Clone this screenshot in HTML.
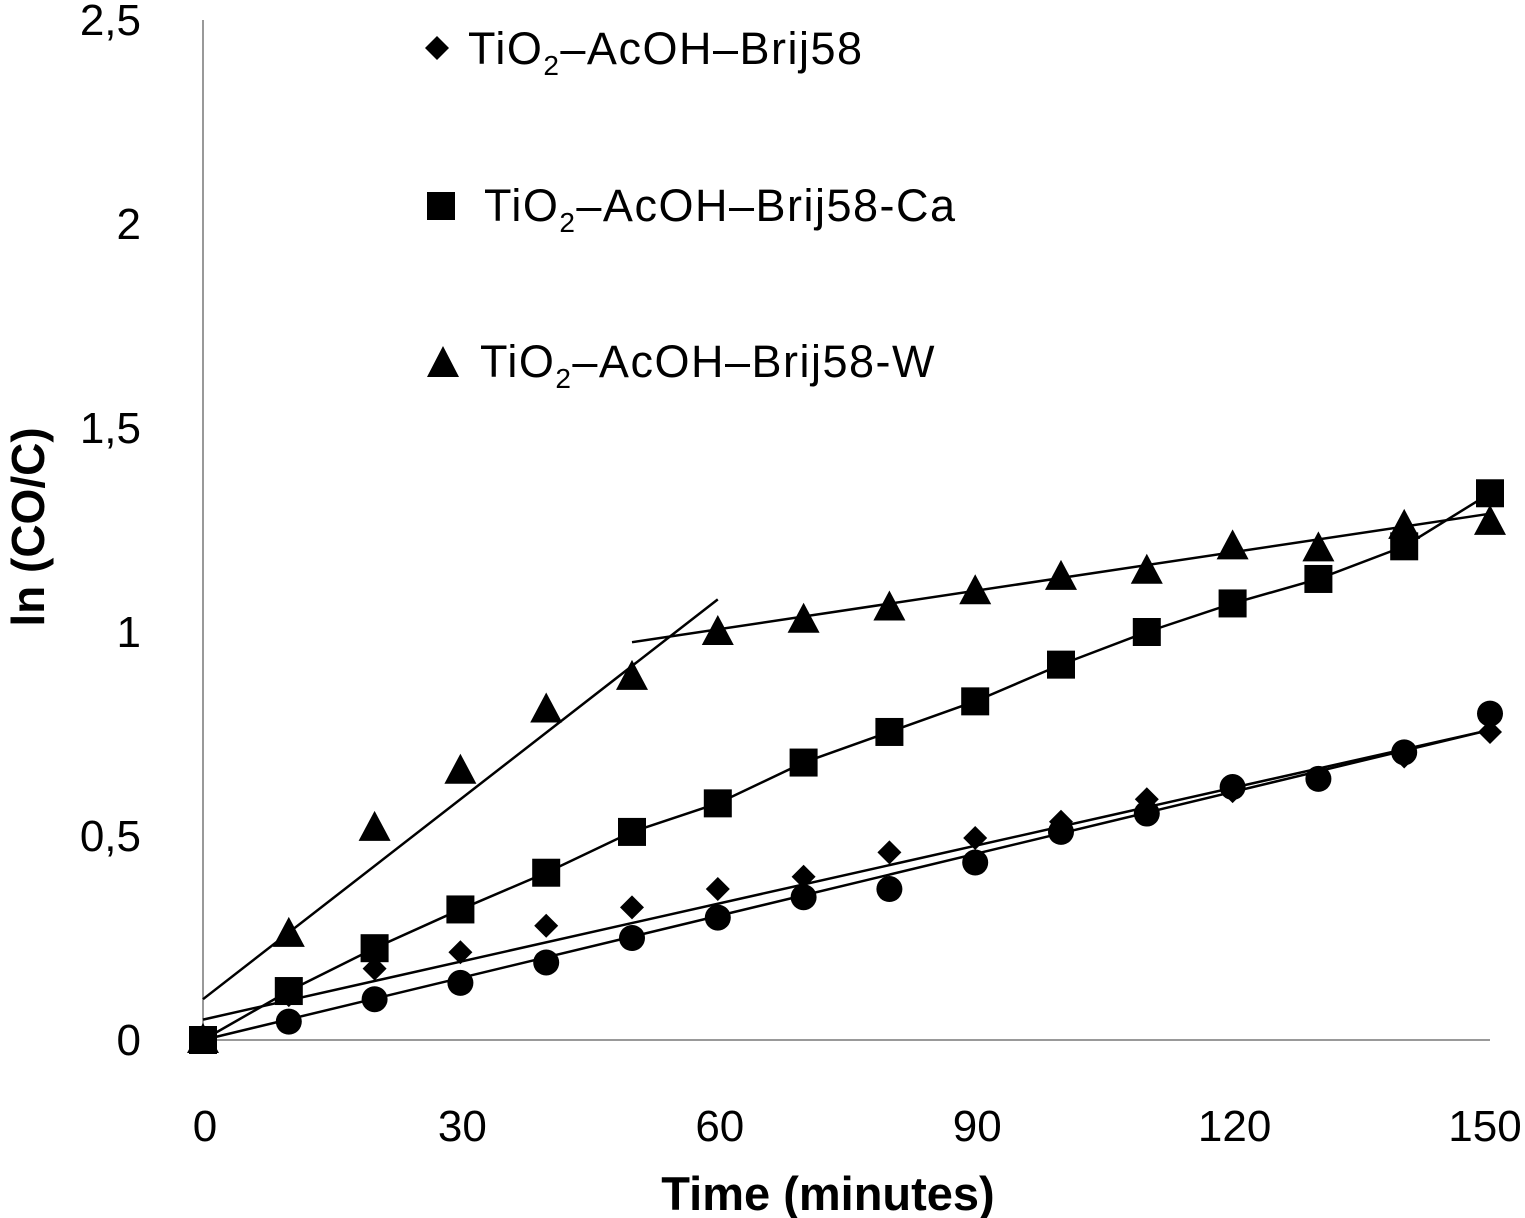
<!DOCTYPE html>
<html><head><meta charset="utf-8"><style>
body{margin:0;background:#fff}
svg{display:block;font-family:"Liberation Sans",Arial,sans-serif}
</style></head><body>
<svg id="chart" width="1525" height="1218" viewBox="0 0 1525 1218">
<g id="axes"></g><g id="lines"></g><g id="marks"></g>
<g font-size="45" letter-spacing="1.5" fill="#000">
 <g>
  <path d="M437 36 L449 48 L437 60 L425 48Z"/>
  <text x="468" y="64">TiO<tspan font-size="28" dy="11">2</tspan><tspan dy="-11">–AcOH–Brij58</tspan></text></g>
 <g>
  <rect x="427" y="192" width="28" height="28"/>
  <text x="484" y="221">TiO<tspan font-size="28" dy="11">2</tspan><tspan dy="-11">–AcOH–Brij58-Ca</tspan></text></g>
 <g>
  <path d="M443 346 L459 377 L427 377Z"/>
  <text x="480" y="377">TiO<tspan font-size="28" dy="11">2</tspan><tspan dy="-11">–AcOH–Brij58-W</tspan></text></g>
</g>
<text font-size="46" font-weight="bold" transform="translate(44,527) rotate(-90)" text-anchor="middle">ln (CO/C)</text>
<text font-size="47" font-weight="bold" x="828" y="1210" text-anchor="middle">Time (minutes)</text>
</svg>
<script>
const times=[0,10,20,30,40,50,60,70,80,90,100,110,120,130,140,150];
const diamondVals=[0,0.11,0.175,0.215,0.28,0.325,0.37,0.40,0.46,0.495,0.535,0.59,0.61,0.64,0.695,0.755];
const circleVals=[0,0.045,0.1,0.14,0.19,0.25,0.30,0.35,0.37,0.435,0.51,0.555,0.62,0.64,0.705,0.80];
const squareVals=[0,0.12,0.225,0.32,0.41,0.51,0.58,0.68,0.755,0.83,0.92,1.0,1.07,1.13,1.21,1.34];
const triVals=[0,0.26,0.52,0.66,0.81,0.89,1.0,1.03,1.06,1.10,1.135,1.15,1.21,1.205,1.26,1.27];
const xTicks=[0,30,60,90,120,150];
const yTicks=[0,0.5,1,1.5,2,2.5];
const yTickLabels=["0","0,5","1","1,5","2","2,5"];
const fitDiamond=[[0,0.05],[150,0.76]];
const fitCircle=[[0,0],[150,0.76]];
const fitTri1=[[0,0.1],[60,1.08]];
const fitTri2=[[50,0.975],[150,1.29]];
const X=t=>203+t*(1490-203)/150;
const Y=v=>1040-v*408;
const NS="http://www.w3.org/2000/svg";
function mk(tag,parent,attrs){const e=document.createElementNS(NS,tag);for(const k in attrs)e.setAttribute(k,attrs[k]);parent.appendChild(e);return e;}
const axes=document.getElementById('axes'),lines=document.getElementById('lines'),marks=document.getElementById('marks');
let a=mk('line',axes,{x1:X(0),y1:Y(2.5),x2:X(0),y2:Y(0),stroke:'#999','stroke-width':2});


a=mk('line',axes,{x1:X(0),y1:Y(0),x2:X(150),y2:Y(0),stroke:'#999','stroke-width':2});


xTicks.forEach(t=>{const e=mk('text',axes,{x:Math.min(X(t)+2,1485),y:1141,'font-size':44,'text-anchor':'middle'});e.textContent=t;

});
yTicks.forEach((v,i)=>{const e=mk('text',axes,{x:141,y:Y(v)+15,'font-size':44,'text-anchor':'end'});e.textContent=yTickLabels[i];

});
function seg(p,name){const e=mk('line',lines,{x1:X(p[0][0]),y1:Y(p[0][1]),x2:X(p[1][0]),y2:Y(p[1][1]),stroke:'#000','stroke-width':2.5});

}
seg(fitDiamond,'trendline-brij58');seg(fitCircle,'trendline-circle');seg(fitTri1,'trendline-w-early');seg(fitTri2,'trendline-w-late');
const pl=mk('polyline',lines,{points:times.map((t,i)=>X(t)+','+Y(squareVals[i])).join(' '),fill:'none',stroke:'#000','stroke-width':2.5});


times.forEach((t,i)=>{const x=X(t),y=Y(circleVals[i]);const e=mk('circle',marks,{cx:x,cy:y,r:13,fill:'#000'});

});
times.forEach((t,i)=>{const x=X(t),y=Y(diamondVals[i]);const e=mk('path',marks,{d:`M${x} ${y-12}L${x+12} ${y}L${x} ${y+12}L${x-12} ${y}Z`,fill:'#000'});

});
times.forEach((t,i)=>{const x=X(t),y=Y(triVals[i]);const e=mk('path',marks,{d:`M${x} ${y-17}L${x+16} ${y+13}L${x-16} ${y+13}Z`,fill:'#000'});

});
times.forEach((t,i)=>{const x=X(t),y=Y(squareVals[i]);const e=mk('rect',marks,{x:x-14,y:y-14,width:28,height:28,fill:'#000'});

});
</script>
</body></html>
